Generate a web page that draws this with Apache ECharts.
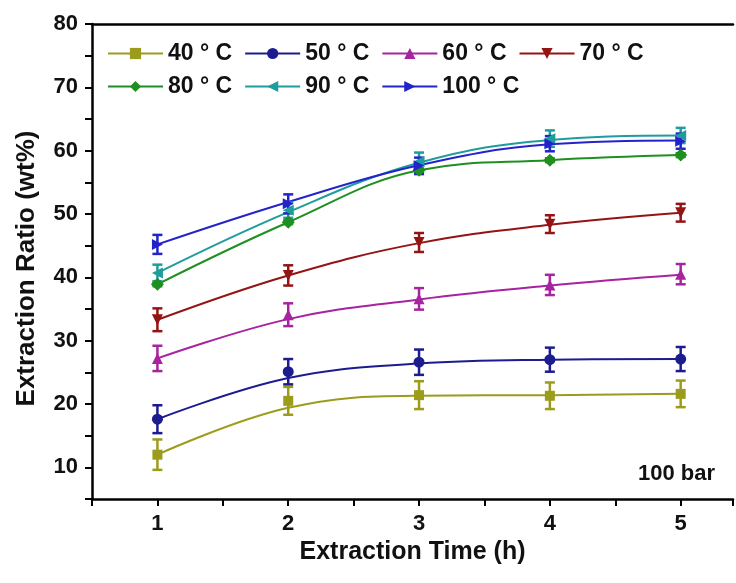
<!DOCTYPE html>
<html><head><meta charset="utf-8">
<script src="https://cdn.jsdelivr.net/npm/echarts@6/dist/echarts.min.js"></script>
<style>html,body{margin:0;padding:0;background:#fff}#c{width:736px;height:583px}</style>
</head><body><div id="c"></div>
<script>
// Extraction time (h)
const times = [1, 2, 3, 4, 5];
const names = ['40 ° C', '50 ° C', '60 ° C', '70 ° C', '80 ° C', '90 ° C', '100 ° C'];
// measured means (wt%)
const mean40 = [12.0, 20.5, 21.4, 21.3, 21.6];
const mean50 = [17.6, 25.1, 26.6, 27.0, 27.1];
const mean60 = [27.2, 34.1, 36.6, 38.8, 40.5];
const mean70 = [33.3, 40.3, 45.5, 48.4, 50.2];
const mean80 = [38.9, 48.7, 56.9, 58.5, 59.3];
const mean90 = [40.7, 50.6, 58.3, 61.9, 62.4];
const mean100 = [45.2, 51.6, 57.6, 61.1, 61.5];
// error bar half-widths
const err40 = [2.4, 2.2, 2.2, 2.1, 2.1];
const err50 = [2.2, 2.0, 2.0, 1.9, 1.9];
const err60 = [2.0, 1.8, 1.7, 1.6, 1.6];
const err70 = [1.8, 1.6, 1.5, 1.4, 1.4];
const err80 = [0.3, 0.3, 0.3, 0.3, 0.3];
const err90 = [1.3, 1.2, 1.4, 1.3, 1.2];
const err100 = [1.5, 1.5, 1.3, 1.2, 1.2];
// fitted curve values read at each time
const fit40 = [12.0, 19.4, 21.3, 21.4, 21.6];
const fit50 = [17.6, 24.1, 26.4, 27.0, 27.1];
const fit60 = [27.2, 33.4, 36.5, 38.7, 40.4];
const fit70 = [33.3, 40.3, 45.4, 48.3, 50.2];
const fit80 = [38.9, 48.7, 56.9, 58.5, 59.3];
const fit90 = [40.7, 50.3, 58.1, 61.7, 62.4];
const fit100 = [45.2, 51.9, 57.7, 61.0, 61.6];
const xTicks = [1, 2, 3, 4, 5];
const yTicks = [10, 20, 30, 40, 50, 60, 70, 80];

const means = [mean40, mean50, mean60, mean70, mean80, mean90, mean100];
const errs = [err40, err50, err60, err70, err80, err90, err100];
const fits = [fit40, fit50, fit60, fit70, fit80, fit90, fit100];
const colors = ['#9c9c1c', '#1c1c8e', '#a8239f', '#941414', '#1f8f1f', '#1f9c9c', '#2323cc'];
const symbols = ['rect', 'circle', 'triangle', 'triangle', 'diamond', 'triangle', 'triangle'];
const rotates = [0, 0, 0, 180, 0, 90, -90];
const sizes = [10, 11, 11, 11, 13, 11, 11];

const FONT = '"Liberation Sans", Arial, sans-serif';

function renderErr(params, api) {
  const x = api.value(0), lo = api.value(1), hi = api.value(2);
  const a = api.coord([x, lo]), b = api.coord([x, hi]);
  const w = 5;
  const style = { stroke: api.visual('color'), lineWidth: 2.5 };
  return { type: 'group', children: [
    { type: 'line', shape: { x1: a[0], y1: a[1], x2: b[0], y2: b[1] }, style },
    { type: 'line', shape: { x1: a[0] - w, y1: a[1], x2: a[0] + w, y2: a[1] }, style },
    { type: 'line', shape: { x1: b[0] - w, y1: b[1], x2: b[0] + w, y2: b[1] }, style }
  ]};
}

const series = [];
names.forEach((n, i) => {
  series.push({
    name: n, type: 'line', smooth: 0.4,
    data: times.map((t, j) => [t, fits[i][j]]),
    symbol: symbols[i], symbolRotate: rotates[i], showSymbol: false,
    lineStyle: { color: colors[i], width: 2 },
    itemStyle: { color: colors[i] }, z: 2, silent: true
  });
});
names.forEach((n, i) => {
  series.push({
    name: 'err' + i, type: 'custom', renderItem: renderErr,
    data: times.map((t, j) => [t, means[i][j] - errs[i][j], means[i][j] + errs[i][j]]),
    encode: { x: 0, y: [1, 2] },
    itemStyle: { color: colors[i] }, z: 3, silent: true
  });
});
names.forEach((n, i) => {
  series.push({
    name: 'pt' + i, type: 'scatter',
    data: times.map((t, j) => [t, means[i][j]]),
    symbol: symbols[i], symbolRotate: rotates[i], symbolSize: sizes[i],
    itemStyle: { color: colors[i], opacity: 1 }, z: 4, silent: true
  });
});

const legendBase = {
  left: 107, padding: 0, orient: 'horizontal', itemWidth: 55, itemHeight: 14, itemGap: 12,
  textStyle: { fontFamily: FONT, fontWeight: 'bold', fontSize: 23, color: '#111' },
  selectedMode: false
};

const chart = echarts.init(document.getElementById('c'), null, { renderer: 'canvas' });
chart.setOption({
  animation: false,
  backgroundColor: '#fff',
  grid: { left: 92, top: 24, right: 3, height: 475 },
  legend: [
    Object.assign({}, legendBase, { top: 42, data: names.slice(0, 4) }),
    Object.assign({}, legendBase, { top: 75, data: names.slice(4) })
  ],
  xAxis: [{
    type: 'value', min: 0.5, max: 5.4, interval: 0.5,
    name: 'Extraction Time (h)', nameLocation: 'middle', nameGap: 36,
    nameTextStyle: { fontFamily: FONT, fontWeight: 'bold', fontSize: 25, color: '#111' },
    axisLine: { lineStyle: { color: '#000', width: 2.5 } },
    axisTick: { length: 7, lineStyle: { color: '#000', width: 2 } },
    splitLine: { show: false },
    axisLabel: {
      formatter: v => (xTicks.indexOf(Math.round(v * 100) / 100) >= 0 ? String(v) : ''),
      fontFamily: FONT, fontWeight: 'bold', fontSize: 22, color: '#111', margin: 14
    }
  }, {
    type: 'value', position: 'top', min: 0.5, max: 5.4, interval: 0.5,
    axisLine: { show: true, lineStyle: { color: '#000', width: 2.5 } },
    axisTick: { show: false }, axisLabel: { show: false }, splitLine: { show: false }
  }],
  yAxis: {
    type: 'value', min: 5, max: 80, interval: 5,
    name: 'Extraction Ratio (wt%)', nameLocation: 'middle', nameGap: 52,
    nameTextStyle: { fontFamily: FONT, fontWeight: 'bold', fontSize: 26, color: '#111', padding: [0, 14, 0, 0] },
    axisLine: { show: true, lineStyle: { color: '#000', width: 2.5 } },
    axisTick: { show: true, length: 7, lineStyle: { color: '#000', width: 2 } },
    splitLine: { show: false },
    axisLabel: {
      formatter: v => (yTicks.indexOf(Math.round(v)) >= 0 && Math.abs(v - Math.round(v)) < 1e-6 ? String(v) : ''),
      fontFamily: FONT, fontWeight: 'bold', fontSize: 22, color: '#111', margin: 14
    }
  },
  graphic: [{
    type: 'text', right: 21, top: 463,
    style: { text: '100 bar', fontFamily: FONT, fontWeight: 'bold', fontSize: 22, fill: '#111' }
  }],
  series: series
});
</script>
</body></html>
